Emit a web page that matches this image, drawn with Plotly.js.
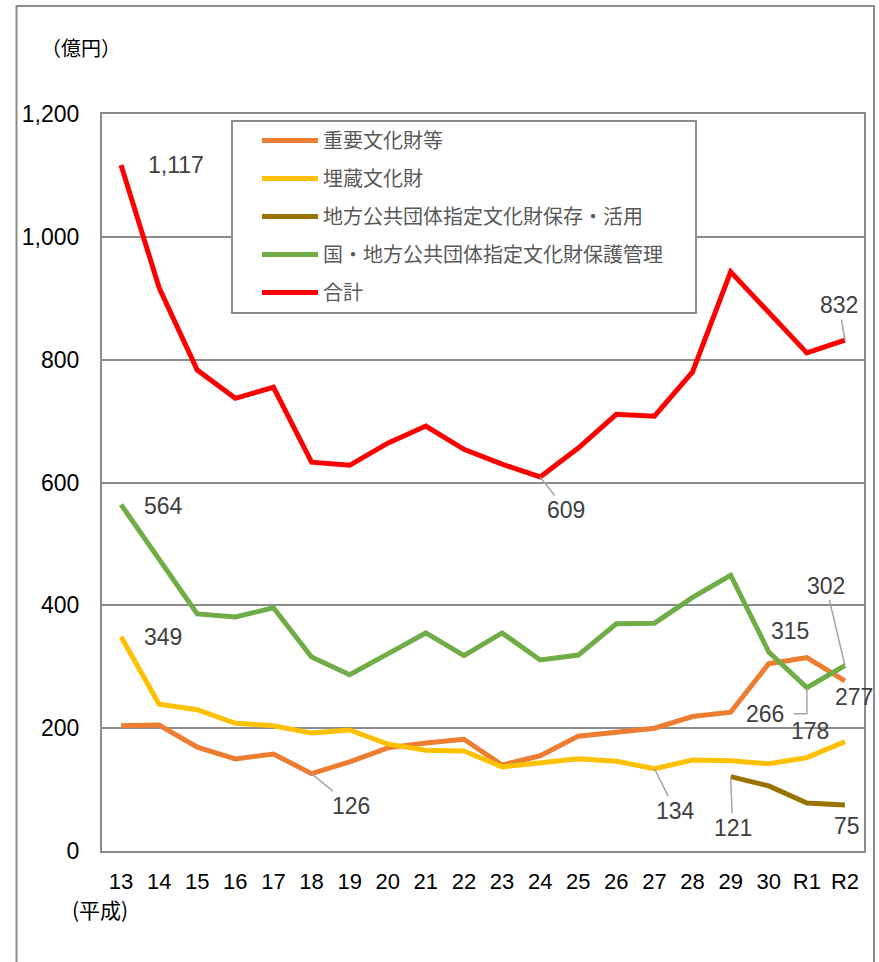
<!DOCTYPE html>
<html>
<head>
<meta charset="utf-8">
<script src="https://cdn.plot.ly/plotly-3.0.1.min.js"></script>
<style>html,body{margin:0;padding:0;background:#fff;}#chart{width:879px;height:962px;}</style>
</head>
<body>
<div id="chart"></div>
<script>
const categories = ['13','14','15','16','17','18','19','20','21','22','23','24','25','26','27','28','29','30','R1','R2'];
const juyo   = [204,205,169,150,158,126,145,168,176,182,140,155,187,194,200,219,226,305,315,277];
const maizo  = [349,239,230,208,204,192,197,174,164,163,137,143,150,146,134,148,147,142,152,178];
const hozon  = [null,null,null,null,null,null,null,null,null,null,null,null,null,null,null,null,121,106,78,75];
const kanri  = [564,474,386,381,396,316,287,321,355,318,355,311,319,370,371,413,449,324,266,302];
const total  = [1117,917,783,737,755,633,628,664,692,654,630,609,656,711,708,780,943,877,811,832];
const seriesNames = ['重要文化財等','埋蔵文化財','地方公共団体指定文化財保存・活用','国・地方公共団体指定文化財保護管理','合計'];
const seriesColors = ['#ED7D31','#FFC000','#997300','#70AD47','#FF0000'];
const seriesData = [juyo, maizo, hozon, kanri, total];

const traces = seriesData.map((d,i)=>({
  type:'scatter', mode:'lines', x:categories, y:d, name:seriesNames[i],
  legendgroup:'g'+i,
  line:{color:seriesColors[i], width:5, shape:'linear'},
  connectgaps:false, hoverinfo:'skip'
}));

const labFont = {family:'Liberation Sans, Arial, sans-serif', size:23, color:'#404040'};
function lab(xi, arr, opts){
  const a = Object.assign({x:xi, y:arr[xi], xref:'x', yref:'y',
    font:labFont, showarrow:false, xanchor:'center', yanchor:'middle'}, opts);
  if (a.showarrow){ a.arrowhead=0; a.arrowwidth=1.5; a.arrowcolor='#A6A6A6'; a.standoff=0; a.startstandoff=0; a.axref='pixel'; a.ayref='pixel'; }
  a.text = arr[xi].toLocaleString('en-US');
  return a;
}
const annotations = [
  lab(0, total, {xshift:55, yshift:0}),
  lab(0, kanri, {xshift:42, yshift:-1}),
  lab(0, maizo, {xshift:42, yshift:0}),
  lab(5, juyo, {showarrow:true, ax:39, ay:32}),
  lab(11, total, {showarrow:true, ax:26, ay:33}),
  lab(14, maizo, {showarrow:true, ax:21, ay:42}),
  lab(16, hozon, {showarrow:true, ax:2, ay:51}),
  lab(19, hozon, {xshift:2, yshift:-21}),
  lab(19, kanri, {showarrow:true, ax:-19, ay:-80}),
  lab(18, juyo, {xshift:-17, yshift:27}),
  lab(18, kanri, {xshift:-42, yshift:-26}),
  lab(19, juyo, {xshift:9, yshift:-16}),
  lab(19, maizo, {xshift:-35, yshift:11}),
  lab(19, total, {showarrow:true, ax:-6, ay:-35}),
  {text:'（億円）', xref:'paper', yref:'paper', x:(81-102)/762, y:(851-47)/737, showarrow:false,
   xanchor:'center', yanchor:'middle',
   font:{family:'Noto Sans CJK JP, sans-serif', size:20, color:'#000'}},
  {text:'(平成)', xref:'paper', yref:'paper', x:(100-102)/762, y:(851-909)/737, showarrow:false,
   xanchor:'center', yanchor:'middle',
   font:{family:'Noto Sans CJK JP, sans-serif', size:21, color:'#000'}}
];

const px = v => (v-102)/762;
const py = v => (851-v)/737;

const layout = {
  width:879, height:962,
  margin:{l:102, r:15, t:114, b:111},
  paper_bgcolor:'#fff', plot_bgcolor:'#fff',
  showlegend:true,
  legend:{x:px(257), y:py(121), xanchor:'left', yanchor:'top',
    borderwidth:0, bgcolor:'rgba(0,0,0,0)',
    font:{family:'Noto Sans CJK JP, sans-serif', size:20, color:'#595959'},
    tracegroupgap:9, itemwidth:56, traceorder:'grouped'},
  xaxis:{type:'category', range:[-0.5,19.5], showgrid:false, zeroline:false,
    showline:true, mirror:true, linecolor:'#8C8C8C', linewidth:2, ticks:'',
    tickfont:{family:'Liberation Sans, Arial, sans-serif', size:22, color:'#000'},
    ticklabelstandoff:10, fixedrange:true},
  yaxis:{range:[0,1200], dtick:200, tickformat:',d', showgrid:true, gridcolor:'#8C8C8C', gridwidth:2,
    zeroline:false, showline:true, mirror:true, linecolor:'#8C8C8C', linewidth:2, ticks:'',
    tickfont:{family:'Liberation Sans, Arial, sans-serif', size:23, color:'#000'},
    ticklabelstandoff:16, fixedrange:true},
  annotations:annotations,
  shapes:[
    {type:'rect', xref:'paper', yref:'paper', x0:px(16.5), x1:px(874),
     y0:py(975), y1:py(6), line:{color:'#8C8C8C', width:2}, layer:'below'},
    {type:'rect', xref:'paper', yref:'paper', x0:px(232), x1:px(696),
     y0:py(313), y1:py(121), line:{color:'#8C8C8C', width:2}, fillcolor:'#fff', layer:'above'},
    {type:'path', xref:'x', yref:'y', xsizemode:'pixel', ysizemode:'pixel',
     xanchor:18, yanchor:kanri[18], path:'M0,0 L0,-26 L-13,-26',
     line:{color:'#A6A6A6', width:1.5}, layer:'above'}
  ]
};
Plotly.newPlot('chart', traces, layout, {displayModeBar:false, staticPlot:true});
</script>
</body>
</html>
